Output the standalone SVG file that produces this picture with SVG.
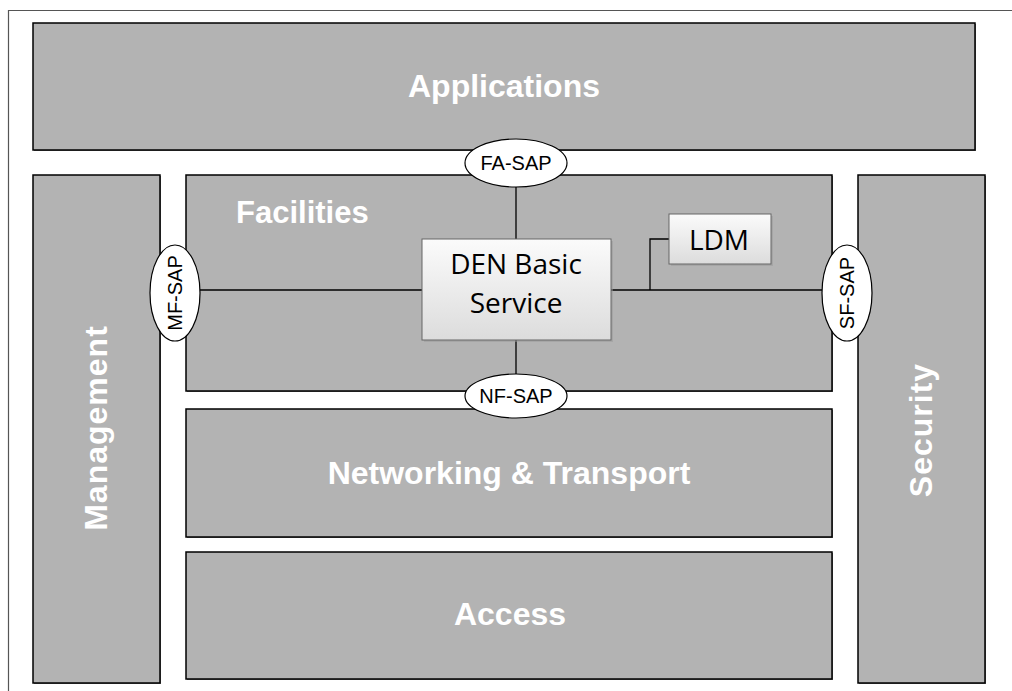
<svg xmlns="http://www.w3.org/2000/svg" width="1012" height="691" viewBox="0 0 1012 691">
<style>
.layer{fill:#b3b3b3;stroke:#000;stroke-width:1.5}
.shadow{fill:#777}
.lt{font-family:"Liberation Sans",Arial,sans-serif;font-weight:bold;fill:#fff;text-anchor:middle;font-size:32px}
.sap{fill:#fff;stroke:#000;stroke-width:1.2}
.st{font-family:"Liberation Sans",Arial,sans-serif;font-size:20px;fill:#000;text-anchor:middle}
.box{fill:url(#g);stroke:#666;stroke-width:1}
.bt{font-family:"Open Sans","Noto Sans",sans-serif;font-size:28px;fill:#000;text-anchor:middle}
.conn{stroke:#000;stroke-width:1.3;fill:none}
</style>
<defs>
<linearGradient id="g" x1="0" y1="0" x2="0" y2="1">
<stop offset="0" stop-color="#fbfbfb"/>
<stop offset="1" stop-color="#dcdcdc"/>
</linearGradient>
</defs>
<rect width="1012" height="691" fill="#fff"/>
<path d="M8.5 691 V10.5 H1012" fill="none" stroke="#555" stroke-width="1.2"/>
<g id="applications">
<rect x="34" y="24" width="942" height="127" class="shadow"/>
<rect x="33" y="23" width="942" height="127" class="layer"/>
<text x="504" y="97" class="lt">Applications</text>
</g>
<g id="management">
<rect x="34" y="176" width="127" height="508" class="shadow"/>
<rect x="33" y="175" width="127" height="508" class="layer"/>
<text transform="translate(107,428) rotate(-90)" class="lt" letter-spacing="1">Management</text>
</g>
<g id="facilities">
<rect x="187" y="176" width="646" height="216" class="shadow"/>
<rect x="186" y="175" width="646" height="216" class="layer"/>
<text x="236" y="223" font-family="Liberation Sans,Arial,sans-serif" font-weight="bold" font-size="31" fill="#fff">Facilities</text>
</g>
<g id="networking">
<rect x="187" y="410" width="646" height="128" class="shadow"/>
<rect x="186" y="409" width="646" height="128" class="layer"/>
<text x="509" y="484" class="lt">Networking &amp; Transport</text>
</g>
<g id="access">
<rect x="187" y="553" width="646" height="127" class="shadow"/>
<rect x="186" y="552" width="646" height="127" class="layer"/>
<text x="510" y="625" class="lt">Access</text>
</g>
<g id="security">
<rect x="859" y="176" width="127" height="508" class="shadow"/>
<rect x="858" y="175" width="127" height="508" class="layer"/>
<text transform="translate(932,430) rotate(-90)" class="lt" letter-spacing="1">Security</text>
</g>
<g id="connectors">
<line x1="516" y1="186" x2="516" y2="239" class="conn"/>
<line x1="516" y1="340" x2="516" y2="375" class="conn"/>
<line x1="200" y1="290" x2="422" y2="290" class="conn"/>
<line x1="611" y1="290" x2="822" y2="290" class="conn"/>
<polyline points="650,290 650,239 669,239" class="conn"/>
</g>
<g id="den-basic-service">
<rect x="424" y="241" width="189" height="101" fill="#999" opacity="0.5"/>
<rect x="422" y="239" width="189" height="101" class="box"/>
<text x="516" y="274" class="bt">DEN Basic</text>
<text x="516" y="313" class="bt">Service</text>
</g>
<g id="ldm">
<rect x="671" y="216" width="102" height="50" fill="#999" opacity="0.5"/>
<rect x="669" y="214" width="102" height="50" class="box"/>
<text x="719" y="250" class="bt">LDM</text>
</g>
<g id="fa-sap">
<ellipse cx="516" cy="163" rx="51" ry="24" class="sap"/>
<text x="516" y="170" class="st">FA-SAP</text>
</g>
<g id="nf-sap">
<ellipse cx="516" cy="396" rx="51" ry="22" class="sap"/>
<text x="516" y="403" class="st">NF-SAP</text>
</g>
<g id="mf-sap">
<ellipse cx="175" cy="293" rx="25" ry="48" class="sap"/>
<text transform="translate(182,293) rotate(-90)" class="st">MF-SAP</text>
</g>
<g id="sf-sap">
<ellipse cx="847" cy="293" rx="25" ry="48" class="sap"/>
<text transform="translate(854,293) rotate(-90)" class="st">SF-SAP</text>
</g>
</svg>
